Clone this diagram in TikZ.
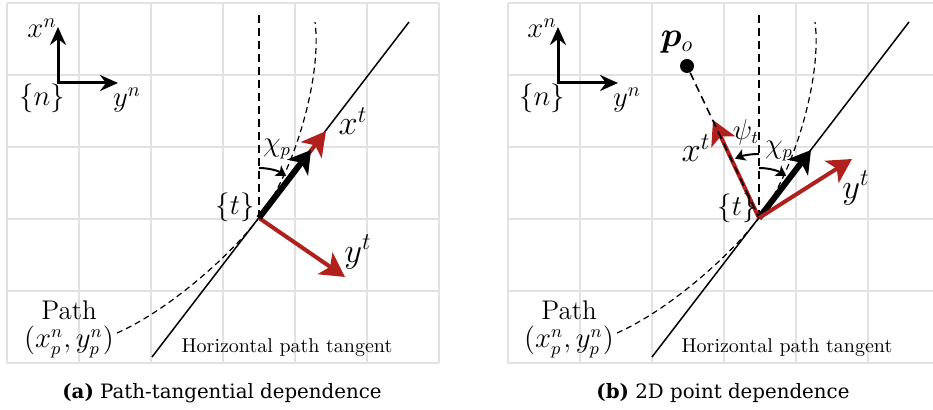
\documentclass[tikz,border=0pt]{standalone}
\usepackage{fontspec}
\usepackage{amsmath,bm}
\newfontfamily\capfont{DejaVu Serif}
\usetikzlibrary{arrows.meta}
\definecolor{tred}{RGB}{176,32,28}
\definecolor{gridc}{RGB}{226,226,226}
\tikzset{
  gridline/.style={gridc, line width=0.6pt},
  framevec/.style={line width=1.5pt, {Stealth[length=9pt,width=8pt,inset=3pt]}-{Stealth[length=9pt,width=8pt,inset=3pt]}},
  tangentline/.style={line width=0.75pt},
  pathcurve/.style={line width=0.6pt, dash pattern=on 3pt off 2pt},
  vdash/.style={line width=0.8pt, dash pattern=on 4pt off 2.5pt},
  redvec/.style={tred, line width=2pt, -{Stealth[length=12pt,width=13pt,inset=3pt]}},
  blackvec/.style={line width=3pt, -{Stealth[length=11pt,width=13pt,inset=3pt]}},
  anglearc/.style={line width=1pt, -{Stealth[length=5pt,width=6pt,inset=1.2pt]}},
  lbl/.style={inner sep=0pt, font=\fontsize{13.5}{15}\selectfont},
  framelbl/.style={inner sep=0pt, font=\fontsize{14.5}{16}\selectfont},
  midlbl/.style={inner sep=0pt, font=\fontsize{13.5}{15}\selectfont},
  biglbl/.style={inner sep=0pt, font=\fontsize{18}{20}\selectfont},
  polbl/.style={inner sep=0pt, font=\fontsize{16}{18}\selectfont},
  caplbl/.style={inner sep=0pt, font=\capfont\fontsize{9.9}{12}\selectfont}
}
\newcommand\panelcommon[1]{%
  \coordinate (P#1) at (259,218);
  \coordinate (nO#1) at (58,83);
  \coordinate (nX#1) at (58,27);
  \coordinate (nY#1) at (118,83);
  \draw[framevec] (nX#1) -- (nO#1) -- (nY#1);
  \node[framelbl] (xn#1) at (42,28) {$x^n$};
  \node[framelbl] (yn#1) at (127,100) {$y^n$};
  \node[midlbl] (nn#1) at (42,98) {$\{n\}$};
  \coordinate (T1#1) at (152,357);
  \coordinate (T2#1) at (409,22);
  \draw[tangentline] (T1#1) -- (T2#1);
  \coordinate (V#1) at (259,15);
  \draw[vdash] (V#1) -- (P#1);
  \coordinate (C0#1) at (117,333);
  \coordinate (C3#1) at (315,22);
  \draw[pathcurve] (C0#1) .. controls (167,311) and (228.5,257.7) .. (P#1)
    .. controls (295.6,170.4) and (322,75) .. (C3#1);
  \node[midlbl] (pathlbl#1) at (69,310) {Path};
  \node[midlbl] (pathxy#1) at (69,342) {$(x_p^n, y_p^n)$};
  \node[inner sep=0pt] (tl#1) at (287,348) {Horizontal path tangent};
  \coordinate (B#1) at (311,150);
}
\begin{document}
\begin{tikzpicture}[x=0.5pt,y=-0.5pt]
\useasboundingbox (0,0) rectangle (933,410);
% grids
\foreach \gx in {7,79,...,439} \draw[gridline] (\gx,3) -- (\gx,363);
\foreach \gy in {3,75,...,363} \draw[gridline] (7,\gy) -- (439,\gy);
\foreach \gx in {508,580,...,868} \draw[gridline] (\gx,3) -- (\gx,363);
\foreach \gy in {3,75,...,363} \draw[gridline] (508,\gy) -- (933,\gy);
% panel a
\begin{scope}
  \panelcommon{a}
  \coordinate (XTa) at (326,131);
  \coordinate (YTa) at (345,277);
  \draw[redvec] (Pa) -- (XTa);
  \draw[redvec] (Pa) -- (YTa);
  \draw[blackvec] (Pa) -- (Ba);
  \draw[anglearc] (259,168) arc[start angle=-90, end angle=-57, radius=50];
  \node[lbl] (chia) at (277,149) {$\chi_p$};
  \node[midlbl] (ta) at (235,207) {$\{t\}$};
  \node[biglbl] (xta) at (353,121) {$x^t$};
  \node[biglbl] (yta) at (358,252) {$y^t$};
\end{scope}
% panel b
\begin{scope}[shift={(500,0)}]
  \panelcommon{b}
  \node[circle, fill, inner sep=0pt, minimum size=7pt] (po) at (187,66) {};
  \node[polbl] (polbl) at (177,42) {$\bm{p}_o$};
  \coordinate (XTb) at (213,120);
  \coordinate (YTb) at (352,159);
  \draw[redvec] (Pb) -- (XTb);
  \draw[vdash] (po) -- (Pb);
  \draw[blackvec] (Pb) -- (Bb);
  \draw[redvec] (Pb) -- (YTb);
  \draw[anglearc] (259,168) arc[start angle=-90, end angle=-57, radius=50];
  \draw[anglearc] (259,154) arc[start angle=-90, end angle=-112, radius=64];
  \node[lbl] (psib) at (246,132) {$\psi_t$};
  \node[lbl] (chib) at (279,151) {$\chi_p$};
  \node[midlbl] (tb) at (237,208) {$\{t\}$};
  \node[biglbl] (xtb) at (196,148) {$x^t$};
  \node[biglbl] (ytb) at (356,188) {$y^t$};
\end{scope}
% captions
\node[caplbl] (capa) at (222,393) {\textbf{(a)} Path-tangential dependence};
\node[caplbl] (capb) at (723,393) {\textbf{(b)} 2D point dependence};
\end{tikzpicture}
\end{document}
